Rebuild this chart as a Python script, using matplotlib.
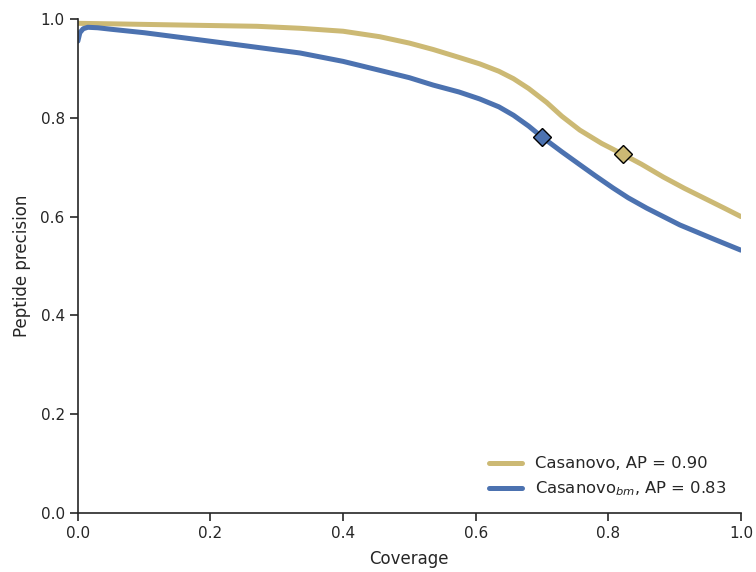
import matplotlib
matplotlib.use("Agg")
import matplotlib.pyplot as plt
import seaborn as sns

sns.set_style("ticks")
plt.rcParams["font.family"] = ["DejaVu Sans"]

# precision-coverage curves
cov_casanovo = [0.0, 0.05, 0.18, 0.27, 0.335, 0.40, 0.455, 0.50, 0.536, 0.575,
                0.606, 0.635, 0.657, 0.68, 0.707, 0.73, 0.757, 0.79, 0.822, 0.85,
                0.883, 0.915, 0.948, 0.975, 1.0]
prec_casanovo = [0.991, 0.990, 0.987, 0.985, 0.981, 0.975, 0.964, 0.951, 0.938, 0.922,
                 0.909, 0.894, 0.879, 0.859, 0.831, 0.803, 0.775, 0.748, 0.726, 0.706,
                 0.680, 0.657, 0.635, 0.617, 0.600]

cov_bm = [0.0, 0.003, 0.008, 0.015, 0.03, 0.05, 0.10, 0.181, 0.25, 0.335,
          0.40, 0.455, 0.50, 0.536, 0.575, 0.606, 0.635, 0.657, 0.68, 0.70,
          0.73, 0.757, 0.78, 0.807, 0.83, 0.858, 0.908, 0.958, 1.0]
prec_bm = [0.955, 0.972, 0.980, 0.983, 0.982, 0.979, 0.972, 0.958, 0.946, 0.931,
           0.914, 0.896, 0.881, 0.866, 0.852, 0.838, 0.822, 0.805, 0.783, 0.761,
           0.731, 0.705, 0.683, 0.658, 0.638, 0.617, 0.583, 0.555, 0.532]

# operating points (score threshold)
point_casanovo = (0.822, 0.726)
point_bm = (0.700, 0.761)

labels = ["Casanovo, AP = 0.90", r"Casanovo$_{bm}$, AP = 0.83"]
colors = ["#CCB974", "#4C72B0"]

fig = plt.figure(figsize=(7.56, 5.72), dpi=100)
ax = fig.add_axes([0.103, 0.103, 0.877, 0.864])

ax.plot(cov_casanovo, prec_casanovo, color=colors[0], lw=3.6, label=labels[0],
        solid_capstyle="round", solid_joinstyle="round")
ax.plot(cov_bm, prec_bm, color=colors[1], lw=3.6, label=labels[1],
        solid_capstyle="round", solid_joinstyle="round")
ax.plot(*point_casanovo, marker="D", ms=9, color=colors[0], mec="black", mew=1)
ax.plot(*point_bm, marker="D", ms=9, color=colors[1], mec="black", mew=1)

ax.set_xlim(0, 1)
ax.set_ylim(0, 1)
ax.set_xlabel("Coverage", fontsize=12, labelpad=6)
ax.set_ylabel("Peptide precision", fontsize=12, labelpad=7)
ax.tick_params(labelsize=11, length=6, width=1.2)
for s in ax.spines.values():
    s.set_linewidth(1.2)
sns.despine(ax=ax)

ax.legend(loc="lower right", frameon=False, fontsize=11.8, handlelength=2.0)

fig.savefig("out.png", dpi=100)
